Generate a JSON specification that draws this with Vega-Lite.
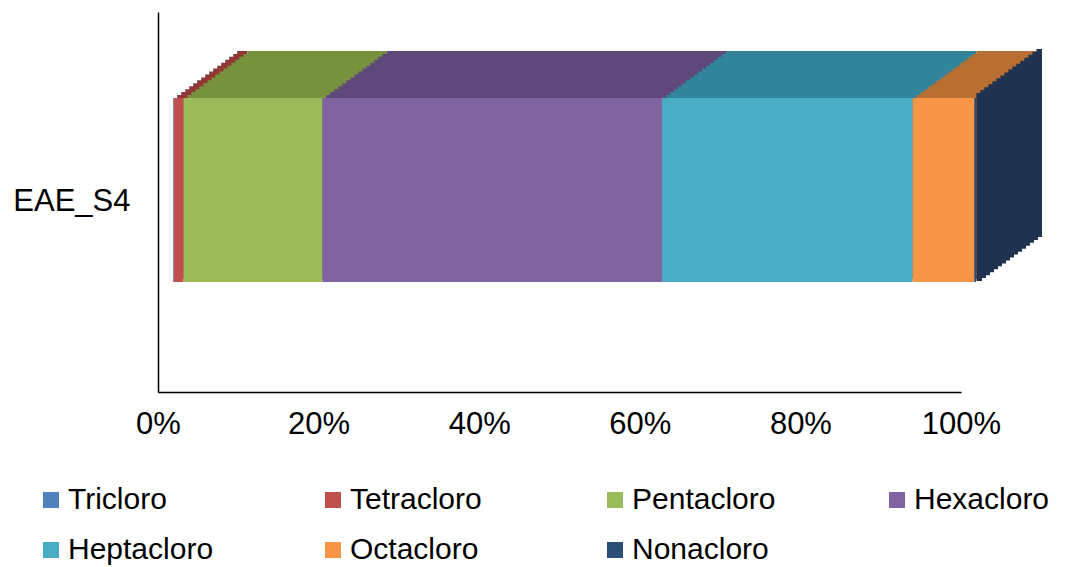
{
  "$schema": "https://vega.github.io/schema/vega-lite/v6.json",
  "autosize": {"type": "none"},
  "padding": {"left": 158, "top": 12, "right": 110, "bottom": 175},
  "width": 803,
  "height": 380,
  "background": "white",
  "config": {"view": {"stroke": null}, "font": "Liberation Sans"},
  "data": {
    "values": [
      {"sample": "EAE_S4", "congener": "Tricloro", "ord": 1, "share": 0.1},
      {"sample": "EAE_S4", "congener": "Tetracloro", "ord": 2, "share": 1.2},
      {"sample": "EAE_S4", "congener": "Pentacloro", "ord": 3, "share": 17.3},
      {"sample": "EAE_S4", "congener": "Hexacloro", "ord": 4, "share": 42.3},
      {"sample": "EAE_S4", "congener": "Heptacloro", "ord": 5, "share": 31.2},
      {"sample": "EAE_S4", "congener": "Octacloro", "ord": 6, "share": 7.7},
      {"sample": "EAE_S4", "congener": "Nonacloro", "ord": 7, "share": 0.2}
    ]
  },
  "encoding": {
    "y": {
      "field": "sample", "type": "nominal", "title": null,
      "axis": {"ticks": false, "domainColor": "#000000", "domainWidth": 1.5, "labelFontSize": 31, "labelColor": "#000000", "labelPadding": 28}
    },
    "x": {
      "field": "share", "type": "quantitative", "stack": "zero", "title": null,
      "scale": {"domain": [0, 100], "nice": false},
      "axis": {"values": [0, 20, 40, 60, 80, 100], "labelExpr": "datum.value + '%'", "ticks": false, "grid": false, "domainColor": "#000000", "domainWidth": 1.5, "labelFontSize": 31, "labelColor": "#000000", "labelPadding": 17, "labelFlush": false}
    },
    "order": {"field": "ord", "type": "quantitative"},
    "fill": {
      "field": "congener", "type": "nominal", "legend": null,
      "scale": {"domain": ["Tricloro", "Tetracloro", "Pentacloro", "Hexacloro", "Heptacloro", "Octacloro", "Nonacloro"], "range": ["#3A5F8B", "#943634", "#76923C", "#5F497A", "#31849B", "#B96E32", "#1F3350"]}
    },
    "stroke": {"value": "#1F3350"},
    "strokeWidth": {"condition": {"test": "datum.congener === 'Nonacloro'", "value": 4}, "value": 0}
  },
  "resolve": {"scale": {"fill": "independent"}},
  "layer": [
    {"mark": {"type": "bar", "size": 184, "xOffset": 79, "yOffset": -59}},
    {"mark": {"type": "bar", "size": 184, "xOffset": 75, "yOffset": -56.06}},
    {"mark": {"type": "bar", "size": 184, "xOffset": 71, "yOffset": -53.13}},
    {"mark": {"type": "bar", "size": 184, "xOffset": 67, "yOffset": -50.19}},
    {"mark": {"type": "bar", "size": 184, "xOffset": 63, "yOffset": -47.25}},
    {"mark": {"type": "bar", "size": 184, "xOffset": 59, "yOffset": -44.31}},
    {"mark": {"type": "bar", "size": 184, "xOffset": 55, "yOffset": -41.38}},
    {"mark": {"type": "bar", "size": 184, "xOffset": 51, "yOffset": -38.44}},
    {"mark": {"type": "bar", "size": 184, "xOffset": 47, "yOffset": -35.5}},
    {"mark": {"type": "bar", "size": 184, "xOffset": 43, "yOffset": -32.56}},
    {"mark": {"type": "bar", "size": 184, "xOffset": 39, "yOffset": -29.63}},
    {"mark": {"type": "bar", "size": 184, "xOffset": 35, "yOffset": -26.69}},
    {"mark": {"type": "bar", "size": 184, "xOffset": 31, "yOffset": -23.75}},
    {"mark": {"type": "bar", "size": 184, "xOffset": 27, "yOffset": -20.81}},
    {"mark": {"type": "bar", "size": 184, "xOffset": 23, "yOffset": -17.88}},
    {"mark": {"type": "bar", "size": 184, "xOffset": 19, "yOffset": -14.94}},
    {
      "mark": {"type": "bar", "size": 184, "xOffset": 15, "yOffset": -12},
      "encoding": {
        "fill": {
          "field": "congener", "type": "nominal",
          "scale": {"domain": ["Tricloro", "Tetracloro", "Pentacloro", "Hexacloro", "Heptacloro", "Octacloro", "Nonacloro"], "range": ["#4F81BD", "#C0504D", "#9BBB59", "#8064A2", "#4BACC6", "#F79646", "#2C4D75"]},
          "legend": {"title": null, "orient": "none", "legendX": -122, "legendY": 473, "direction": "horizontal", "columns": 4, "gridAlign": "all", "columnPadding": 104, "rowPadding": 20, "padding": 0, "symbolType": "square", "symbolSize": 256, "symbolStrokeWidth": 0, "labelFontSize": 30, "labelColor": "#000000", "labelOffset": 2, "labelLimit": 400}
        },
        "strokeWidth": {"value": 0}
      }
    }
  ]
}
